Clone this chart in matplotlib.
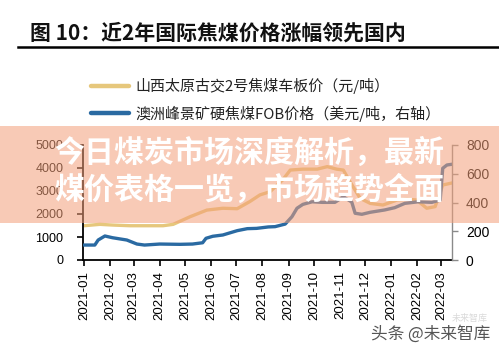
import matplotlib
matplotlib.use("Agg")
import matplotlib.pyplot as plt
import matplotlib.dates as mdates
from matplotlib.lines import Line2D
from matplotlib.patches import Rectangle
import pandas as pd

plt.rcParams['font.family'] = ['Liberation Sans', 'Noto Sans CJK SC', 'DejaVu Sans']

title = "图 10：近2年国际焦煤价格涨幅领先国内"
label_cn = "山西太原古交2号焦煤车板价（元/吨）"
label_au = "澳洲峰景矿硬焦煤FOB价格（美元/吨，右轴）"
banner_line1 = "今日煤炭市场深度解析，最新"
banner_line2 = "煤价表格一览，市场趋势全面"
watermark = "头条 @未来智库"

cn_dates = ["2021-01-01", "2021-01-20", "2021-02-04", "2021-02-25", "2021-04-05",
            "2021-04-17", "2021-05-07", "2021-05-27", "2021-06-15", "2021-07-02",
            "2021-07-17", "2021-07-29", "2021-08-10", "2021-08-25", "2021-09-03",
            "2021-09-18", "2021-10-05", "2021-10-17", "2021-10-28", "2021-11-05",
            "2021-11-13", "2021-11-25", "2021-12-07", "2021-12-22", "2022-01-08",
            "2022-01-20", "2022-01-31", "2022-02-12", "2022-02-22", "2022-03-03",
            "2022-03-14"]
cn_price = [1490, 1550, 1520, 1490, 1490,
            1550, 1880, 2170, 2250, 2230,
            2540, 2830, 2970, 3480, 3910,
            3950, 3950, 4060, 3950, 3910,
            3400, 2680, 2460, 2390, 2610,
            2640, 2610, 2250, 2320, 3260,
            3350]

au_dates = ["2021-01-01", "2021-01-14", "2021-01-18", "2021-01-26", "2021-02-04",
            "2021-02-21", "2021-03-05", "2021-03-14", "2021-04-01", "2021-04-25",
            "2021-05-10", "2021-05-22", "2021-05-26", "2021-06-03", "2021-06-15",
            "2021-07-02", "2021-07-14", "2021-07-25", "2021-08-08", "2021-08-16",
            "2021-08-28", "2021-09-05", "2021-09-11", "2021-09-18", "2021-09-29",
            "2021-10-11", "2021-10-26", "2021-11-05", "2021-11-15", "2021-11-19",
            "2021-11-27", "2021-12-07", "2021-12-24", "2022-01-05", "2022-01-17",
            "2022-02-02", "2022-02-18", "2022-02-28", "2022-03-03", "2022-03-08",
            "2022-03-14"]
au_price = [104, 104, 139, 167, 155,
            139, 111, 104, 111, 109,
            111, 120, 151, 165, 174,
            204, 218, 220, 230, 232,
            250, 301, 360, 387, 405,
            401, 401, 440, 403, 325,
            318, 332, 348, 364, 394,
            405, 401, 417, 638, 661,
            666]

left_ticks = [0, 1000, 2000, 3000, 4000, 5000]
right_ticks = [0, 200, 400, 600, 800]

W, H = 499, 351
fig = plt.figure(figsize=(W / 100, H / 100), dpi=100)
fig.patch.set_facecolor("white")

ax = fig.add_axes([83 / W, 1 - 260 / H, (452 - 83) / W, (260 - 145) / H])
ax2 = ax.twinx()

yellow = "#E6C77C"
blue = "#2A6AA2"
l1, = ax.plot(pd.to_datetime(cn_dates), cn_price, color=yellow, lw=2.4, solid_capstyle="round")
l2, = ax2.plot(pd.to_datetime(au_dates), au_price, color=blue, lw=2.4, solid_capstyle="round")

ax.set_xlim(pd.Timestamp("2020-12-31"), pd.Timestamp("2022-03-14"))
ax.set_ylim(0, 5000)
ax2.set_ylim(0, 800)
ax.set_yticks(left_ticks)
ax2.set_yticks(right_ticks)
ax.xaxis.set_major_locator(mdates.MonthLocator())
ax.xaxis.set_major_formatter(mdates.DateFormatter("%Y-%m"))

for s in ["top", "right"]:
    ax.spines[s].set_visible(False)
for s in ["top", "left", "bottom"]:
    ax2.spines[s].set_visible(False)
ax.spines["left"].set_linewidth(1.3)
ax.spines["bottom"].set_linewidth(1.3)
ax2.spines["right"].set_color("#8a8a8a")
ax2.spines["right"].set_linewidth(1.0)

ax.tick_params(axis="y", direction="out", length=4, width=1.2, pad=10, labelsize=9, colors="black")
ax.tick_params(axis="x", direction="out", length=4, width=1.2, pad=4, labelsize=9.5,
               labelrotation=90)
ax2.tick_params(axis="y", direction="out", length=4, width=1.0, pad=6, labelsize=10,
                color="#8a8a8a", labelcolor="black")

# title and rule
fig.text(30 / W, 1 - 33 / H, title, fontsize=15, fontweight="bold",
         family=["Noto Sans CJK SC", "DejaVu Sans"], va="center", ha="left", color="#111111")
fig.add_artist(Line2D([18 / W, 1.0], [1 - 47 / H, 1 - 47 / H], color="black", lw=1.8,
                      transform=fig.transFigure))

leg = fig.legend(handles=[l1, l2], labels=[label_cn, label_au], loc="upper left",
                 bbox_to_anchor=(91 / W, 1 - 78 / H), frameon=False,
                 prop={"family": ["Noto Sans CJK SC", "DejaVu Sans"], "size": 10.8},
                 handlelength=2.5, handletextpad=0.45, labelspacing=0.75,
                 borderaxespad=0, borderpad=0)
for h in leg.get_lines():
    h.set_linewidth(3.2)
for t in leg.get_texts():
    t.set_color("#222222")

# watermark
fig.text(490 / W, 1 - 334 / H, watermark, fontsize=12, color="#555555",
         family=["Noto Sans CJK SC", "DejaVu Sans"], ha="right", va="center")
fig.text(488 / W, 1 - 318 / H, "未来智库", fontsize=6.5, color="#dadada",
         family=["Noto Sans CJK SC", "DejaVu Sans"], ha="right", va="center", zorder=0)

# banner overlay
fig.add_artist(Rectangle((0, 1 - 223 / H), 1, (223 - 126) / H, transform=fig.transFigure,
                         facecolor="#F4A07A", alpha=0.55, edgecolor="none", zorder=10))
fig.text(54 / W, 1 - 153 / H, banner_line1, fontsize=21.6, fontweight="bold", color="white",
         family=["Noto Sans CJK SC", "DejaVu Sans"], ha="left", va="center", zorder=11)
fig.text(54 / W, 1 - 190 / H, banner_line2, fontsize=21.6, fontweight="bold", color="white",
         family=["Noto Sans CJK SC", "DejaVu Sans"], ha="left", va="center", zorder=11)

fig.savefig("out.png", dpi=100, facecolor="white")
